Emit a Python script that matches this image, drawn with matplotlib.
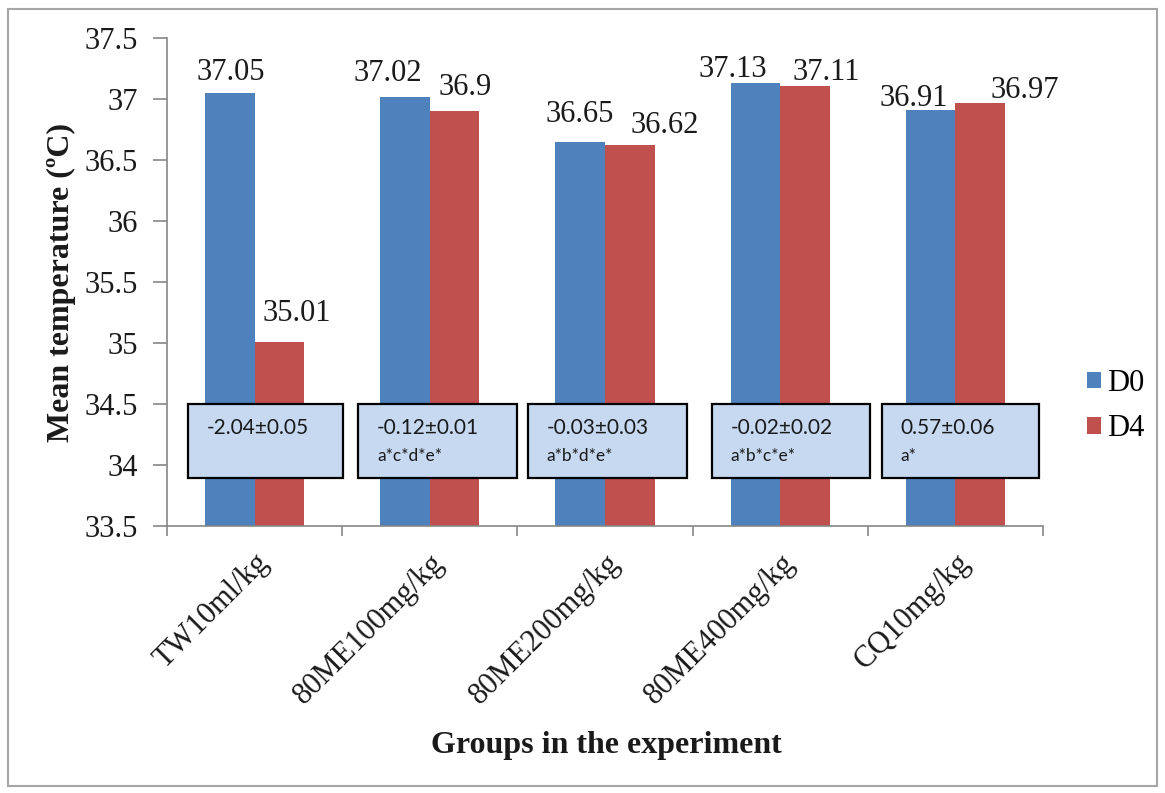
import matplotlib
matplotlib.use("Agg")
import matplotlib.pyplot as plt
from matplotlib.patches import Rectangle
import numpy as np

groups = ["TW10ml/kg", "80ME100mg/kg", "80ME200mg/kg", "80ME400mg/kg", "CQ10mg/kg"]
d0 = [37.05, 37.02, 36.65, 37.13, 36.91]
d4 = [35.01, 36.90, 36.62, 37.11, 36.97]
d0_labels = ["37.05", "37.02", "36.65", "37.13", "36.91"]
d4_labels = ["35.01", "36.9", "36.62", "37.11", "36.97"]
change_text = ["-2.04\u00b10.05", "-0.12\u00b10.01", "-0.03\u00b10.03", "-0.02\u00b10.02", "0.57\u00b10.06"]
sig_text = ["", "a*c*d*e*", "a*b*d*e*", "a*b*c*e*", "a*"]
yticks = [33.5, 34, 34.5, 35, 35.5, 36, 36.5, 37, 37.5]
ytick_labels = ["33.5", "34", "34.5", "35", "35.5", "36", "36.5", "37", "37.5"]

# label placement (pixel offsets from the bar's top centre)
d0_label_off = [(1, 13), (-17, 16), (-1, 20), (-23, 6), (-17, 4)]
d4_label_off = [(17, 21), (11, 16), (35, 12), (21, 6), (45, 5)]
# annotation box extents relative to the group centre
box_left = [-0.38, -0.41, -0.44, -0.39, -0.42]
box_right = [0.505, 0.50, 0.47, 0.51, 0.48]

blue = "#4F81BD"
red = "#C0504D"
box_fill = "#C6D9F1"
axis_grey = "#868686"
ink = "#1a1a1a"
serif = ["Liberation Serif", "DejaVu Serif"]
sans = ["Lato", "DejaVu Sans"]

W, H = 1165, 793
fig = plt.figure(figsize=(W / 100, H / 100), dpi=100)
fig.patch.set_facecolor("white")

# outer frame around the whole chart
fig.patches.append(Rectangle((8 / W, 1 - 786 / H), (1157 - 8) / W, (786 - 9) / H,
                             transform=fig.transFigure, fill=False,
                             edgecolor="#A6A6A6", linewidth=1.5))

ax = fig.add_axes([167 / W, 1 - 526 / H, (1043 - 167) / W, (526 - 38) / H])

x = np.arange(len(groups))
bw = 0.283
base = 33.5
b0 = ax.bar(x - bw / 2, np.array(d0) - base, bw, bottom=base, color=blue, label="D0", zorder=2)
b1 = ax.bar(x + bw / 2, np.array(d4) - base, bw, bottom=base, color=red, label="D4", zorder=2)

for xi, v, s, off in zip(x - bw / 2, d0, d0_labels, d0_label_off):
    ax.annotate(s, (xi, v), xytext=(off[0], off[1]), textcoords="offset pixels",
                ha="center", va="baseline", fontsize=22, family=serif, color=ink, zorder=4)
for xi, v, s, off in zip(x + bw / 2, d4, d4_labels, d4_label_off):
    ax.annotate(s, (xi, v), xytext=(off[0], off[1]), textcoords="offset pixels",
                ha="center", va="baseline", fontsize=22, family=serif, color=ink, zorder=4)

# annotation boxes with change values and significance marks
box_lo, box_hi = 33.89, 34.50
for i in range(len(groups)):
    left = i + box_left[i]
    width = box_right[i] - box_left[i]
    ax.add_patch(Rectangle((left, box_lo), width, box_hi - box_lo, facecolor=box_fill,
                           edgecolor="black", linewidth=1.6, zorder=3))
    ax.text(left + 0.108, 34.30, change_text[i], ha="left", va="center", fontsize=15,
            family=sans, color=ink, zorder=4)
    if sig_text[i]:
        ax.text(left + 0.108, 34.07, sig_text[i], ha="left", va="center", fontsize=12.5,
                family=sans, color=ink, zorder=4)

ax.set_xlim(-0.5, len(groups) - 0.5)
ax.set_ylim(33.5, 37.5)
ax.set_yticks(yticks)
ax.set_yticklabels(ytick_labels, fontsize=22, family=serif, color=ink)
ax.set_xticks(x)
ax.set_xticklabels(groups, rotation=45, ha="right", rotation_mode="anchor",
                   fontsize=22, family=serif, color=ink)
ax.set_xticks(np.arange(-0.5, len(groups)), minor=True)
ax.tick_params(axis="x", which="major", length=0, pad=16)
ax.tick_params(axis="x", which="minor", length=7, color=axis_grey, width=1.2)
ax.tick_params(axis="y", length=10, color=axis_grey, width=1.2, pad=11)

for side in ("top", "right"):
    ax.spines[side].set_visible(False)
for side in ("left", "bottom"):
    ax.spines[side].set_color(axis_grey)
    ax.spines[side].set_linewidth(1.2)

fig.text(61 / W, 1 - 282 / H, "Mean temperature (\u00baC)", rotation=90, ha="center", va="center",
         fontsize=23, fontweight="bold", family=serif, color=ink)
fig.text(606 / W, 1 - 746 / H, "Groups in the experiment", ha="center", va="center",
         fontsize=23, fontweight="bold", family=serif, color=ink)

leg = fig.legend(handles=[b0, b1], labels=["D0", "D4"], loc="center left",
                 bbox_to_anchor=(1087 / W, 1 - 406 / H), frameon=False,
                 prop={"family": serif, "size": 22}, handlelength=0.45, handleheight=0.45,
                 handletextpad=0.2, labelspacing=0.55, borderpad=0, borderaxespad=0)

fig.savefig("out.png", dpi=100)
